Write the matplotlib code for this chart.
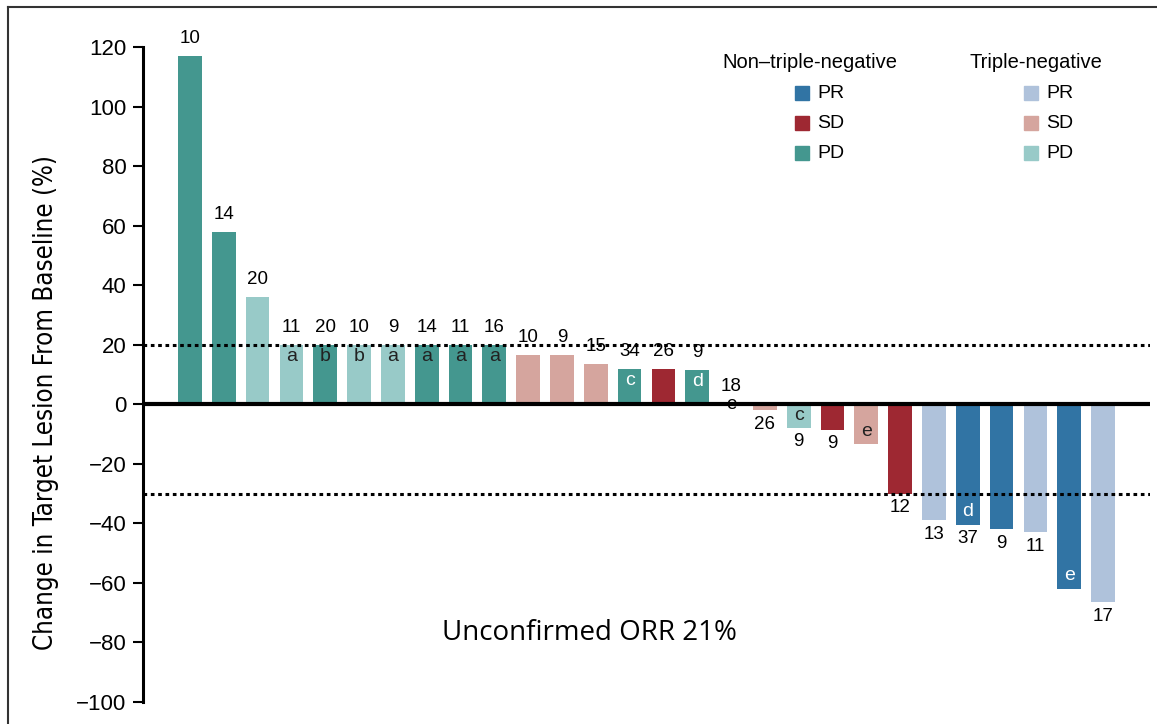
import matplotlib
matplotlib.use("Agg")
import matplotlib.pyplot as plt
from matplotlib.patches import Rectangle
from matplotlib.lines import Line2D

# change from baseline (%) per patient, sorted as in the waterfall
values = [117, 58, 36, 20, 20, 20, 20, 20, 20, 20,
          16.5, 16.5, 13.5, 12, 12, 11.5, 0, -2, -8, -8.5,
          -13.5, -30, -39, -40.5, -42, -43, -62, -66.5]
# group: N = non-triple-negative, T = triple-negative
groups = ["N", "N", "T", "T", "N", "T", "T", "N", "N", "N",
          "T", "T", "T", "N", "N", "N", "N", "T", "T", "N",
          "T", "N", "T", "N", "N", "T", "N", "T"]
responses = ["PD", "PD", "PD", "PD", "PD", "PD", "PD", "PD", "PD", "PD",
             "SD", "SD", "SD", "PD", "SD", "PD", "PD", "SD", "PD", "SD",
             "SD", "SD", "PR", "PR", "PR", "PR", "PR", "PR"]
counts = ["10", "14", "20", "11", "20", "10", "9", "14", "11", "16",
          "10", "9", "15", "34", "26", "9", "18", "26", "9", "9",
          "", "12", "13", "37", "9", "11", "", "17"]
notes = ["", "", "", "a", "b", "b", "a", "a", "a", "a",
         "", "", "", "c", "", "d", "e", "", "c", "",
         "e", "", "", "d", "", "", "e", ""]

colors = {
    ("N", "PR"): "#3174a4", ("N", "SD"): "#9e2832", ("N", "PD"): "#44978f",
    ("T", "PR"): "#afc2db", ("T", "SD"): "#d5a59e", ("T", "PD"): "#98cac8",
}

fig = plt.figure(figsize=(11.57, 7.24), dpi=100)
ax = fig.add_axes([143 / 1157, 22 / 724, 1007 / 1157, 655 / 724])

x = list(range(len(values)))
bar_cols = [colors[(g, r)] for g, r in zip(groups, responses)]
ax.bar(x, values, width=0.7, color=bar_cols, zorder=2)

ax.set_xlim(-1.39, len(values) - 1 + 1.39)
ax.set_ylim(-100, 120)
ax.set_yticks(range(-100, 121, 20))
ax.set_yticklabels([str(t).replace("-", "\u2212") for t in range(-100, 121, 20)],
                   fontsize=16, family="Liberation Sans")
ax.tick_params(axis="y", length=7, width=1.5, pad=5)
ax.set_xticks([])
for s in ["top", "right", "bottom"]:
    ax.spines[s].set_visible(False)
ax.spines["left"].set_linewidth(2.2)

ax.axhline(0, color="black", lw=3, zorder=3)
ax.axhline(20, color="black", lw=2.2, ls=(0, (1.2, 1.2)), zorder=3)
ax.axhline(-30, color="black", lw=2.2, ls=(0, (1.2, 1.2)), zorder=3)

ax.set_ylabel("Change in Target Lesion From Baseline (%)", fontsize=18.5,
              family="DejaVu Sans", fontstretch="condensed")
ax.yaxis.set_label_coords(-0.083, 0.458)

dark = {"#3174a4", "#44978f"}
for i, v in enumerate(values):
    if counts[i]:
        if v >= 0:
            ax.text(i, v + 3, counts[i], ha="center", va="bottom", fontsize=13.5,
                    family="Liberation Sans", zorder=4)
        else:
            ax.text(i, v - 1.8, counts[i], ha="center", va="top", fontsize=13.5,
                    family="Liberation Sans", zorder=4)
    if notes[i]:
        tc = "white" if (bar_cols[i] in dark and v != 20) else "#222222"
        if v == 0:
            ax.text(i, 0, notes[i], ha="center", va="center", fontsize=13.5,
                    family="Liberation Sans", zorder=4)
        elif v > 0:
            ax.text(i, v - 1, notes[i], ha="center", va="top", fontsize=14,
                    color=tc, family="Liberation Sans", zorder=4)
        else:
            ax.text(i, v + 1.5, notes[i], ha="center", va="bottom", fontsize=14,
                    color=tc, family="Liberation Sans", zorder=4)

fig.text(589 / 1157, 1 - 633 / 724, "Unconfirmed ORR 21%",
         ha="center", va="center", fontsize=20, family="Open Sans")

# legend
fig.text(810 / 1157, 1 - 62 / 724, "Non\u2013triple-negative", ha="center", va="center",
         fontsize=14.5, family="Liberation Sans")
fig.text(1036 / 1157, 1 - 62 / 724, "Triple-negative", ha="center", va="center",
         fontsize=14.5, family="Liberation Sans")
for j, r in enumerate(["PR", "SD", "PD"]):
    yc = 1 - (93 + 30 * j) / 724
    for g, xs in [("N", 795), ("T", 1024)]:
        fig.add_artist(Rectangle((xs / 1157, yc - 6.5 / 724), 14 / 1157, 13 / 724,
                                 transform=fig.transFigure, color=colors[(g, r)]))
        fig.text((xs + 22) / 1157, yc, r, ha="left", va="center", fontsize=14,
                 family="Liberation Sans")

# outer frame (top and left edges)
fig.add_artist(Line2D([8 / 1157, 1], [1 - 7 / 724, 1 - 7 / 724],
                      transform=fig.transFigure, color="#333333", lw=1.5))
fig.add_artist(Line2D([8 / 1157, 8 / 1157], [0, 1 - 7 / 724],
                      transform=fig.transFigure, color="#333333", lw=1.5))

fig.savefig("out.png", dpi=100)
